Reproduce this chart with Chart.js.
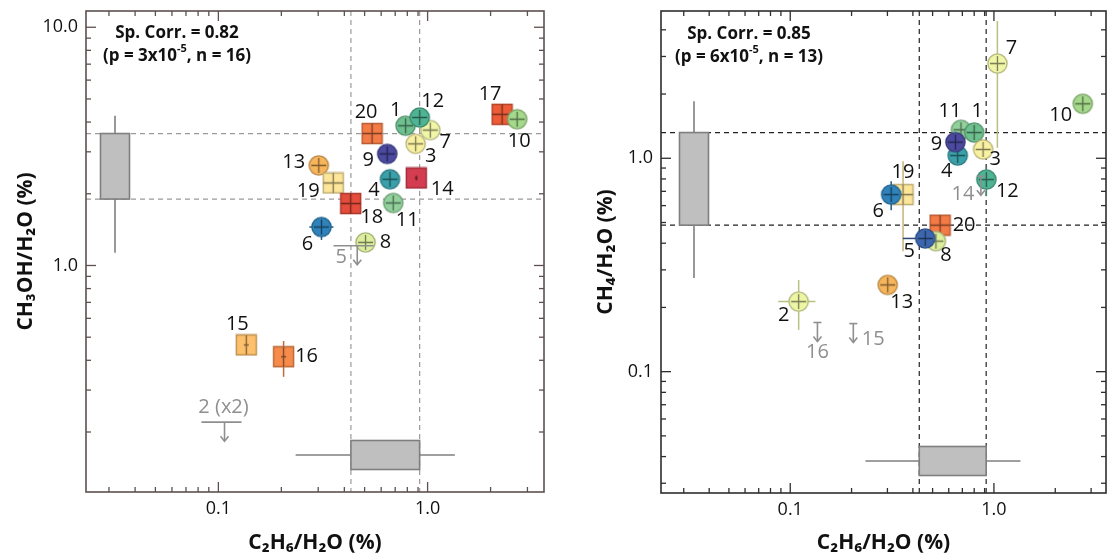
<!DOCTYPE html>
<html lang="en">
<head>
<meta charset="UTF-8">
<title>C2H6/H2O vs CH3OH/H2O and CH4/H2O</title>
<script src="https://cdn.jsdelivr.net/npm/chart.js"></script>
<style>
  body { margin: 0; background: #fff; }
  #wrap { position: relative; width: 1117px; height: 560px; }
  canvas { position: absolute; top: 0; }
</style>
</head>
<body>
<div id="wrap">
  <canvas id="left" width="558" height="560" style="left:0"></canvas>
  <canvas id="right" width="559" height="560" style="left:558px"></canvas>
</div>
<script>
// ---------- left panel: CH3OH/H2O vs C2H6/H2O (%) ----------
const idsA   = [13, 19, 6, 18, 8, 20, 11, 4, 9, 14, 1, 7, 3, 12, 17, 10, 15, 16];
const c2h6A  = [0.302, 0.354, 0.311, 0.429, 0.505, 0.543, 0.685, 0.661, 0.641, 0.883, 0.785, 1.03, 0.877, 0.917, 2.27, 2.68, 0.136, 0.205];
const ch3ohA = [2.63, 2.22, 1.45, 1.82, 1.25, 3.58, 1.83, 2.30, 2.94, 2.33, 3.86, 3.70, 3.24, 4.18, 4.31, 4.11, 0.464, 0.414];

// upper limits (grey arrows)
const limNamesA = ['5', '2 (x2)'];
const limXA     = [0.461, 0.107];
const limYA     = [1.21, 0.22];
const limXLoA   = [0.355, 0.083];
const limXHiA   = [0.552, 0.129];

// error bars that reach outside the markers
const errIdsA = [16, 6];
const errXLoA = [null, 0.272];
const errXHiA = [null, 0.355];
const errYLoA = [0.341, 1.28];
const errYHiA = [0.482, 1.59];

// ---------- right panel: CH4/H2O vs C2H6/H2O (%) ----------
const idsB  = [11, 1, 4, 9, 3, 12, 7, 10, 19, 6, 20, 8, 5, 13, 2];
const c2h6B = [0.689, 0.80, 0.664, 0.647, 0.885, 0.918, 1.04, 2.73, 0.358, 0.313, 0.544, 0.519, 0.46, 0.301, 0.110];
const ch4B  = [1.36, 1.32, 1.03, 1.19, 1.10, 0.795, 2.78, 1.80, 0.676, 0.676, 0.486, 0.409, 0.421, 0.255, 0.213];

const limNamesB = ['14', '16', '15'];
const limXB     = [0.863, 0.136, 0.204];
const limYB     = [0.824, 0.17, 0.168];

const errIdsB = [7, 19, 12, 6, 2, 5];
const errXLoB = [null, null, null, null, 0.0873, 0.357];
const errXHiB = [null, null, null, null, 0.133, 0.46];
const errYLoB = [1.12, 0.367, 0.664, 0.571, 0.157, null];
const errYHiB = [4.4, 0.968, 0.908, 0.781, 0.269, null];

// box plots: [whisker low, q1, q3, whisker high]
const c2h6Box  = [0.234, 0.43, 0.916, 1.35];
const ch3ohBox = [1.13, 1.90, 3.58, 4.25];
const ch4Box   = [0.275, 0.486, 1.32, 1.85];

// axis ranges and tick labels
const xRangeA = [0.0233, 3.6],  yRangeA = [0.112, 11.7];
const xRangeB = [0.0232, 3.55], yRangeB = [0.027, 4.9];
const xTickVals = [0.1, 1],  xTickText = ['0.1', '1.0'];
const yTickValsA = [1, 10],  yTickTextA = ['1.0', '10.0'];
const yTickValsB = [0.1, 1], yTickTextB = ['0.1', '1.0'];

// correlation notes
const noteA = ['Sp. Corr. = 0.82', '(p = 3x10', '-5', ', n = 16)'];
const noteB = ['Sp. Corr. = 0.85', '(p = 6x10', '-5', ', n = 13)'];

// ---------- styling ----------
const FONT = '"Open Sans", "DejaVu Sans", sans-serif';
const FILL = {
  1: '#6fc08f', 2: '#eef6a6', 3: '#f8f1a2', 4: '#3aa0aa', 5: '#3c67ae',
  6: '#2f82ba', 7: '#f0f5a8', 8: '#ddef9e', 9: '#4b4aa0', 10: '#a5d98b',
  11: '#92d19c', 12: '#4fb494', 13: '#f7b55c', 14: '#d43d50', 15: '#fdc06c',
  16: '#f68b4b', 17: '#ee5c37', 18: '#e44c3c', 19: '#fde69a', 20: '#f47b46'
};
// half lengths of the inner cross where it is not the default
const crossA = {14: [1.5, 2.5], 15: [2.5, 9.5], 16: [2.5, 9.5]};

const labelOffA = {
  1: [-10, -15], 3: [15, 12], 4: [-16, 11], 6: [-14, 17], 7: [15, 12], 8: [20, 0],
  9: [-19, 6], 10: [2, 22], 11: [14, 17], 12: [13, -16], 13: [-25, -3], 14: [26, 11],
  15: [-9, -21], 16: [23, 0], 17: [-12, -20], 18: [21, 14], 19: [-25, 8], 20: [-6, -21]
};
const limLabelOffA = [[-16, 12], [-1, -15]];
const labelOffB = {
  1: [3, -21], 2: [-15, 14], 3: [12, 10], 4: [-11, 16], 5: [-16, 13], 6: [-13, 17],
  7: [14, -15], 8: [10, 14], 9: [-19, 2], 10: [-22, 11], 11: [-11, -18], 12: [21, 12],
  13: [14, 17], 19: [0, -22], 20: [24, 0]
};
const limLabelOffB = [[-18, 18], [0, 30], [20, 16]];

function shade(hex, f) {
  const n = parseInt(hex.slice(1), 16);
  const r = Math.round(((n >> 16) & 255) * f), g = Math.round(((n >> 8) & 255) * f), b = Math.round((n & 255) * f);
  return `rgb(${r},${g},${b})`;
}

function makeMarker(id, cross) {
  const fill = FILL[id];
  const sq = id >= 14;
  const s = 23, c = s / 2;
  const cv = document.createElement('canvas');
  cv.width = s; cv.height = s;
  const g = cv.getContext('2d');
  g.fillStyle = fill;
  g.strokeStyle = shade(fill, 0.75);
  g.lineWidth = 1.4;
  g.beginPath();
  if (sq) g.rect(1.5, 1.5, s - 3, s - 3);
  else g.arc(c, c, 9.6, 0, 2 * Math.PI);
  g.fill(); g.stroke();
  const hw = cross ? cross[0] : (sq ? 10 : 7.5);
  const hh = cross ? cross[1] : (sq ? 10 : 7.5);
  g.strokeStyle = shade(fill, 0.5);
  g.lineWidth = 1.3;
  g.beginPath();
  g.moveTo(c - hw, c); g.lineTo(c + hw, c);
  g.moveTo(c, c - hh); g.lineTo(c, c + hh);
  g.stroke();
  return cv;
}

function logTicks(min, max) {
  const out = [];
  for (let e = Math.floor(Math.log10(min)); e <= Math.ceil(Math.log10(max)); e++) {
    for (let m = 1; m <= 9; m++) {
      const v = m * Math.pow(10, e);
      if (v >= min * 0.999 && v <= max * 1.001) out.push({value: v});
    }
  }
  return out;
}

function tickText(v, vals, texts) {
  const i = vals.findIndex(t => Math.abs(v / t - 1) < 1e-6);
  return i < 0 ? '' : texts[i];
}

function noPad(s) {
  s.paddingTop = 0; s.paddingBottom = 0; s.paddingLeft = 0; s.paddingRight = 0;
}

function seg(ctx, x1, y1, x2, y2) {
  ctx.beginPath(); ctx.moveTo(x1, y1); ctx.lineTo(x2, y2); ctx.stroke();
}

function makeExtras(cfg) {
  return {
    id: 'extras',
    beforeDatasetsDraw(chart) {
      const {ctx, chartArea: a, scales: {x, y}} = chart;
      ctx.save();
      ctx.beginPath(); ctx.rect(a.left, a.top, a.right - a.left, a.bottom - a.top); ctx.clip();

      // dashed lines at the quartiles
      ctx.setLineDash([5, 4]);
      ctx.lineWidth = 1.2;
      ctx.strokeStyle = cfg.dash;
      [cfg.xBox[1], cfg.xBox[2]].forEach(v => { const p = x.getPixelForValue(v); seg(ctx, p, a.top, p, a.bottom); });
      [cfg.yBox[1], cfg.yBox[2]].forEach(v => { const p = y.getPixelForValue(v); seg(ctx, a.left, p, a.right, p); });
      ctx.setLineDash([]);

      // box plots
      ctx.lineWidth = 1.6;
      ctx.strokeStyle = '#7f7f7f';
      ctx.fillStyle = '#bfbfbf';
      const hb = cfg.boxHalf;
      // horizontal box (x statistics)
      const yc = a.bottom - cfg.hBoxOff;
      const [xw1, xq1, xq3, xw2] = cfg.xBox.map(v => x.getPixelForValue(v));
      seg(ctx, xw1, yc, xq1, yc); seg(ctx, xq3, yc, xw2, yc);
      ctx.fillRect(xq1, yc - hb, xq3 - xq1, 2 * hb);
      ctx.strokeRect(xq1, yc - hb, xq3 - xq1, 2 * hb);
      // vertical box (y statistics)
      const xc = a.left + cfg.vBoxOff;
      const [yw1, yq1, yq3, yw2] = cfg.yBox.map(v => y.getPixelForValue(v));
      seg(ctx, xc, yw1, xc, yq1); seg(ctx, xc, yq3, xc, yw2);
      ctx.fillRect(xc - hb, yq3, 2 * hb, yq1 - yq3);
      ctx.strokeRect(xc - hb, yq3, 2 * hb, yq1 - yq3);

      // error bars
      ctx.lineWidth = 1.5;
      cfg.err.ids.forEach((id, i) => {
        const j = cfg.ids.indexOf(id);
        const px = x.getPixelForValue(cfg.xs[j]), py = y.getPixelForValue(cfg.ys[j]);
        ctx.strokeStyle = shade(FILL[id], id === 5 || id === 6 ? 0.7 : 0.78);
        if (cfg.err.xlo[i] != null) seg(ctx, x.getPixelForValue(cfg.err.xlo[i]), py, x.getPixelForValue(cfg.err.xhi[i]), py);
        if (cfg.err.ylo[i] != null) seg(ctx, px, y.getPixelForValue(cfg.err.ylo[i]), px, y.getPixelForValue(cfg.err.yhi[i]));
      });
      ctx.restore();
    },
    afterDatasetsDraw(chart) {
      const {ctx, chartArea: a, scales: {x, y}} = chart;
      ctx.save();
      ctx.textAlign = 'center';
      ctx.textBaseline = 'middle';

      // point numbers
      ctx.font = '20px ' + FONT;
      ctx.fillStyle = '#111';
      cfg.ids.forEach((id, i) => {
        const o = cfg.labelOff[id];
        ctx.fillText(String(id), x.getPixelForValue(cfg.xs[i]) + o[0], y.getPixelForValue(cfg.ys[i]) + o[1]);
      });

      // upper limits
      ctx.strokeStyle = '#8f8f8f';
      ctx.fillStyle = '#8f8f8f';
      ctx.lineWidth = 1.6;
      cfg.lim.names.forEach((name, i) => {
        const px = x.getPixelForValue(cfg.lim.x[i]), py = y.getPixelForValue(cfg.lim.y[i]);
        if (cfg.lim.xlo) seg(ctx, x.getPixelForValue(cfg.lim.xlo[i]), py, x.getPixelForValue(cfg.lim.xhi[i]), py);
        else seg(ctx, px - 4, py, px + 4, py);
        seg(ctx, px, py, px, py + 19);
        ctx.beginPath();
        ctx.moveTo(px - 4, py + 14); ctx.lineTo(px, py + 19); ctx.lineTo(px + 4, py + 14);
        ctx.stroke();
        const o = cfg.lim.off[i];
        ctx.fillText(name, px + o[0], py + o[1]);
      });

      // correlation note
      const nx = a.left + cfg.noteX, ny = a.top + cfg.noteY;
      ctx.fillStyle = '#111';
      ctx.font = 'bold 17px ' + FONT;
      ctx.fillText(cfg.note[0], nx, ny);
      const big = 'bold 17px ' + FONT, small = 'bold 11px ' + FONT;
      ctx.font = big; const w1 = ctx.measureText(cfg.note[1]).width, w3 = ctx.measureText(cfg.note[3]).width;
      ctx.font = small; const w2 = ctx.measureText(cfg.note[2]).width;
      let sx = nx - (w1 + w2 + w3) / 2;
      ctx.textAlign = 'left';
      ctx.font = big; ctx.fillText(cfg.note[1], sx, ny + 23); sx += w1;
      ctx.font = small; ctx.fillText(cfg.note[2], sx, ny + 16); sx += w2;
      ctx.font = big; ctx.fillText(cfg.note[3], sx, ny + 23);

      // inward tick marks on all four sides
      ctx.strokeStyle = cfg.frame;
      ctx.lineWidth = 1.3;
      const major = v => Math.abs(Math.log10(v) - Math.round(Math.log10(v))) < 1e-6;
      x.ticks.forEach(t => {
        const p = x.getPixelForValue(t.value), L = major(t.value) ? 10 : 5;
        seg(ctx, p, a.bottom, p, a.bottom - L); seg(ctx, p, a.top, p, a.top + L);
      });
      y.ticks.forEach(t => {
        const p = y.getPixelForValue(t.value), L = major(t.value) ? 10 : 5;
        seg(ctx, a.left, p, a.left + L, p); seg(ctx, a.right, p, a.right - L, p);
      });
      ctx.lineWidth = 1.6;
      ctx.strokeRect(a.left, a.top, a.right - a.left, a.bottom - a.top);
      ctx.restore();
    }
  };
}

function panel(canvasId, cfg) {
  const markers = cfg.ids.map(id => makeMarker(id, cfg.cross[id]));
  new Chart(document.getElementById(canvasId), {
    type: 'scatter',
    data: {
      datasets: [{
        data: cfg.xs.map((v, i) => ({x: v, y: cfg.ys[i]})),
        pointStyle: markers,
        pointRadius: 10,
        pointHoverRadius: 10
      }]
    },
    options: {
      responsive: false,
      animation: false,
      events: [],
      layout: {padding: cfg.padding},
      plugins: {legend: {display: false}, tooltip: {enabled: false}},
      scales: {
        x: {
          type: 'logarithmic', min: cfg.xRange[0], max: cfg.xRange[1], bounds: 'data',
          afterBuildTicks: s => { s.ticks = logTicks(s.min, s.max); },
          afterFit: s => { s.height = cfg.xAxisH; noPad(s); },
          grid: {display: false, drawTicks: false},
          border: {display: false},
          ticks: {autoSkip: false, maxRotation: 0, padding: 6, color: '#111', font: {family: FONT, size: 18},
                  callback: v => tickText(v, xTickVals, xTickText)},
          title: {display: true, text: 'C₂H₆/H₂O (%)', color: '#111', font: {family: FONT, size: 21, weight: 'bold'},
                  padding: {top: 0, bottom: 4}}
        },
        y: {
          type: 'logarithmic', min: cfg.yRange[0], max: cfg.yRange[1], bounds: 'data',
          afterBuildTicks: s => { s.ticks = logTicks(s.min, s.max); },
          afterFit: s => { s.width = cfg.yAxisW; noPad(s); },
          grid: {display: false, drawTicks: false},
          border: {display: false},
          ticks: {autoSkip: false, padding: 8, color: '#111', font: {family: FONT, size: 18},
                  callback: v => tickText(v, cfg.yTickVals, cfg.yTickText)},
          title: {display: true, text: cfg.yTitle, color: '#111', font: {family: FONT, size: 21, weight: 'bold'},
                  padding: {top: cfg.yTitlePad, bottom: 0}}
        }
      }
    },
    plugins: [makeExtras(cfg)]
  });
}

panel('left', {
  ids: idsA, xs: c2h6A, ys: ch3ohA, cross: crossA, labelOff: labelOffA,
  lim: {names: limNamesA, x: limXA, y: limYA, xlo: limXLoA, xhi: limXHiA, off: limLabelOffA},
  err: {ids: errIdsA, xlo: errXLoA, xhi: errXHiA, ylo: errYLoA, yhi: errYHiA},
  xBox: c2h6Box, yBox: ch3ohBox, xRange: xRangeA, yRange: yRangeA,
  yTickVals: yTickValsA, yTickText: yTickTextA, yTitle: 'CH₃OH/H₂O (%)', note: noteA,
  padding: {top: 8, right: 14, left: 0, bottom: 0}, xAxisH: 68, yAxisW: 86, yTitlePad: 13,
  dash: '#9a9a9a', frame: '#5e5050', boxHalf: 14.5, hBoxOff: 37, vBoxOff: 29, noteX: 91, noteY: 22
});

panel('right', {
  ids: idsB, xs: c2h6B, ys: ch4B, cross: {}, labelOff: labelOffB,
  lim: {names: limNamesB, x: limXB, y: limYB, off: limLabelOffB},
  err: {ids: errIdsB, xlo: errXLoB, xhi: errXHiB, ylo: errYLoB, yhi: errYHiB},
  xBox: c2h6Box, yBox: ch4Box, xRange: xRangeB, yRange: yRangeB,
  yTickVals: yTickValsB, yTickText: yTickTextB, yTitle: 'CH₄/H₂O (%)', note: noteB,
  padding: {top: 9, right: 2, left: 0, bottom: 0}, xAxisH: 67, yAxisW: 103, yTitlePad: 35,
  dash: '#222', frame: '#2e2e2e', boxHalf: 14.5, hBoxOff: 32, vBoxOff: 33, noteX: 88, noteY: 23
});
</script>
</body>
</html>
